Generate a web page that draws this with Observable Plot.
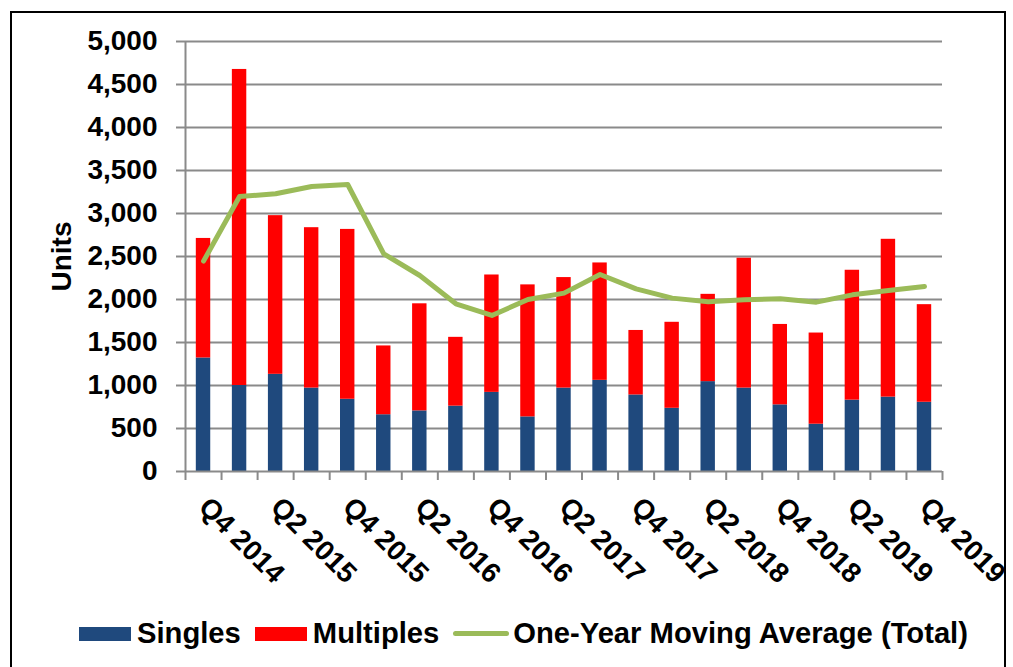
<!DOCTYPE html>
<html>
<head>
<meta charset="utf-8">
<script src="https://cdn.jsdelivr.net/npm/d3@7"></script>
<script src="https://cdn.jsdelivr.net/npm/@observablehq/plot@0.6"></script>
<style>
  html, body { margin: 0; padding: 0; background: #fff; }
  body { width: 1013px; height: 667px; position: relative; overflow: hidden;
         font-family: "Liberation Sans", Arial, sans-serif; }
  #frame { position: absolute; left: 10px; top: 11px; width: 996px; height: 700px;
           border: 2px solid #000; box-sizing: border-box; }
  #chart { position: absolute; left: 0; top: 0; }
  #legend { position: absolute; left: 79px; top: 617px; display: flex; align-items: center;
            font-size: 29.2px; font-weight: bold; color: #000; white-space: nowrap; }
  .item { display: flex; align-items: center; margin-right: 14px; }
  .sw { width: 52px; height: 14px; margin-right: 6px; }
  .ln { width: 56px; height: 5px; border-radius: 3px; margin-right: 4px; }
</style>
</head>
<body>
<div id="frame"></div>
<div id="chart"></div>
<div id="legend"></div>
<script>
const quarters = ["Q4 2014","Q1 2015","Q2 2015","Q3 2015","Q4 2015","Q1 2016","Q2 2016","Q3 2016",
  "Q4 2016","Q1 2017","Q2 2017","Q3 2017","Q4 2017","Q1 2018","Q2 2018","Q3 2018",
  "Q4 2018","Q1 2019","Q2 2019","Q3 2019","Q4 2019"];
const singles   = [1320,1000,1130,970,840,660,705,760,920,635,970,1060,890,735,1045,970,775,550,830,865,805];
const multiples = [1390,3675,1845,1865,1975,800,1245,800,1365,1535,1285,1365,750,1000,1015,1510,935,1060,1510,1835,1135];
const movingAvg = [2446,3198,3229,3314,3337,2531,2279,1950,1814,2000,2074,2291,2124,2016,1975,1996,2008,1969,2054,2105,2151];
const yTicks = [0,500,1000,1500,2000,2500,3000,3500,4000,4500,5000];
const seriesNames = ["Singles","Multiples","One-Year Moving Average (Total)"];
const colors = ["#1F497D","#FF0000","#9BBB59"];

const rows = quarters.map((q, i) => ({
  i, q, singles: singles[i], multiples: multiples[i], total: singles[i] + multiples[i], ma: movingAvg[i]
}));
const labelIdx = d3.range(0, quarters.length, 2);
const boundaries = d3.range(-0.5, quarters.length, 1);
const half = 0.2;
const grid = "#8a8a8a";
const fmt = d3.format(",");

const plot = Plot.plot({
  width: 1013,
  height: 600,
  marginLeft: 185,
  marginRight: 71,
  marginTop: 41,
  marginBottom: 129,
  style: { fontFamily: "'Liberation Sans', Arial, sans-serif", fontSize: "28px", fontWeight: "bold", color: "#000", background: "transparent" },
  x: { type: "linear", domain: [-0.5, quarters.length - 0.5] },
  y: { domain: [0, 5000] },
  marks: [
    Plot.gridY(yTicks.filter(d => d > 0), { stroke: grid, strokeOpacity: 1, strokeWidth: 2 }),
    Plot.rectY(rows, { x1: d => d.i - half, x2: d => d.i + half, y1: 0, y2: "singles", fill: colors[0] }),
    Plot.rectY(rows, { x1: d => d.i - half, x2: d => d.i + half, y1: "singles", y2: "total", fill: colors[1] }),
    Plot.ruleX([-0.5], { stroke: grid, strokeWidth: 2 }),
    Plot.ruleY([0], { stroke: grid, strokeWidth: 2 }),
    Plot.axisY({ ticks: yTicks, tickFormat: d => fmt(d), tickSize: 9, tickPadding: 19, stroke: grid, strokeWidth: 2, fill: "#000", fontSize: 28, fontWeight: "bold", label: null }),
    Plot.axisX({ ticks: boundaries, tickSize: 9, tickFormat: () => "", stroke: grid, strokeWidth: 2, label: null }),
    Plot.axisX({ ticks: labelIdx, tickSize: 0, tickPadding: 31, tickRotate: 45, tickFormat: i => quarters[i], fill: "#000", fontSize: 28, fontWeight: "bold", label: null }),
    Plot.line(rows, { x: "i", y: "ma", stroke: colors[2], strokeWidth: 5, strokeLinejoin: "round", strokeLinecap: "round" }),
    Plot.text(["Units"], { frameAnchor: "left", textAnchor: "middle", text: d => d, rotate: -90, dx: -123, fontSize: 28, fontWeight: "bold", fill: "#000" })
  ]
});
document.getElementById("chart").appendChild(plot);

const legend = document.getElementById("legend");
seriesNames.forEach((name, k) => {
  const item = document.createElement("div");
  item.className = "item";
  const sw = document.createElement("div");
  sw.className = k < 2 ? "sw" : "ln";
  sw.style.background = colors[k];
  const t = document.createElement("span");
  t.textContent = name;
  item.appendChild(sw);
  item.appendChild(t);
  legend.appendChild(item);
});
</script>
</body>
</html>
